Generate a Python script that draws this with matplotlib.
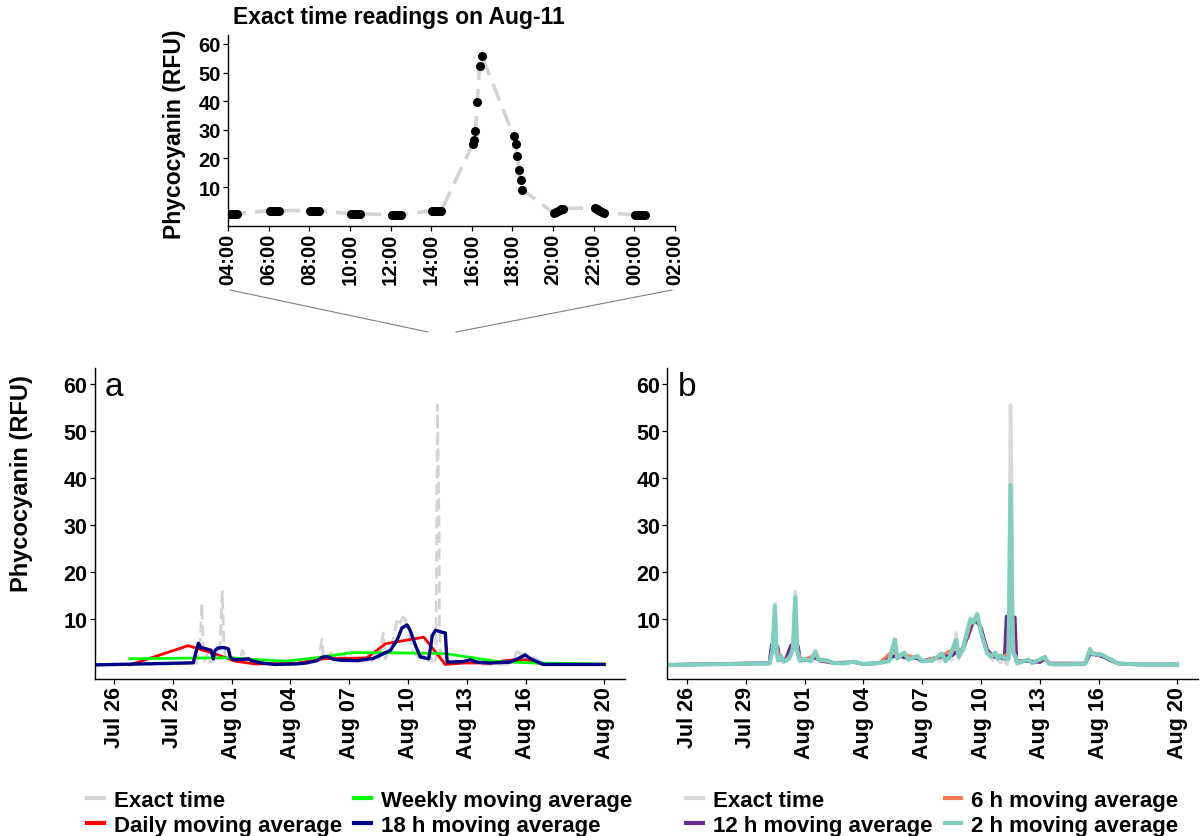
import numpy as np
import pandas as pd
import matplotlib
matplotlib.use("Agg")
import matplotlib.pyplot as plt
from matplotlib.lines import Line2D

plt.rcParams['font.family'] = ['Liberation Sans', 'DejaVu Sans']
plt.rcParams['font.weight'] = 'bold'

# ---- data (day offsets are days after Jul 26 00:00) ----
exact_days = [-1.0, 4.20, 4.30, 4.40, 4.48, 4.55, 4.62, 4.75, 4.85, 5.05, 5.25, 5.40, 5.52, 5.60,
              5.70, 5.85, 6.00, 6.40, 6.55, 6.70, 7.00, 7.10, 7.50, 8.00, 8.50, 8.70, 9.00, 9.80,
              10.20, 10.45, 10.60, 10.70, 10.90, 11.07, 11.25, 11.50, 11.75, 11.95, 12.20, 12.50,
              12.75, 12.90, 13.00, 13.15, 13.35, 13.50, 13.73, 13.85, 14.00, 14.15, 14.35, 14.46,
              14.60, 14.80, 14.95, 15.10, 15.30, 15.50, 15.62, 15.73, 15.85, 16.00, 16.08, 16.17,
              16.25, 16.33, 16.42, 16.50, 16.585, 16.60, 16.67, 16.75, 16.83, 17.00, 17.40, 17.60,
              18.00, 18.26, 18.45, 18.70, 19.50, 20.30, 20.45, 20.55, 20.70, 21.00, 21.14, 21.40,
              21.65, 22.00, 23.00, 25.00]
exact_vals = [0.2, 0.5, 3.0, 5.5, 13.2, 3.5, 1.0, 2.5, 0.8, 1.0, 2.0, 4.0, 15.8, 4.5,
              1.2, 0.9, 1.5, 1.0, 3.3, 1.3, 1.3, 1.0, 0.6, 0.5, 0.9, 0.6, 0.3, 0.6,
              1.0, 1.5, 5.6, 1.5, 2.0, 2.8, 1.3, 1.8, 2.1, 0.9, 1.3, 1.0,
              1.8, 1.0, 2.6, 1.0, 2.3, 1.2, 7.0, 1.5, 3.0, 3.5, 8.0, 10.2,
              9.0, 11.0, 8.0, 5.5, 2.8, 1.9, 1.2, 2.8, 1.3, 0.7, 1.8, 1.8,
              0.7, 0.3, 1.8, 55.5, 27.5, 9.0, 2.0, 2.5, 0.3, 0.6, 1.3, 0.6,
              0.8, 1.9, 0.6, 0.3, 0.3, 0.4, 1.5, 3.7, 2.5, 2.6, 2.4, 1.8,
              1.2, 0.5, 0.3, 0.3]

daily_days = [0.8, 3.78, 5.15, 6.17, 7.2, 9.24, 10.7, 12.9, 13.84, 15.8, 16.9, 17.85, 19.2,
              19.9, 20.5, 21.0, 21.8, 25.0]
daily_vals = [0.2, 4.3, 2.55, 1.0, 0.4, 0.5, 1.5, 1.7, 4.7, 6.1, 0.3, 0.6, 0.6,
              1.1, 1.3, 1.3, 0.4, 0.3]

weekly_days = [0.8, 5.0, 6.0, 7.0, 8.76, 10.5, 12.1, 14.0, 16.9, 18.5, 19.6, 21.5, 25.0]
weekly_vals = [1.5, 1.7, 1.7, 1.4, 1.0, 1.8, 2.8, 2.8, 2.6, 1.6, 0.9, 0.6, 0.4]

h18_days = [-1.0, 4.04, 4.15, 4.3, 4.45, 4.55, 4.8, 4.95, 5.06, 5.15, 5.3, 5.6, 5.83, 5.92,
            6.0, 6.25, 6.6, 6.85, 7.02, 7.53, 8.2, 9.24, 9.8, 10.35, 10.6, 10.86, 11.2, 11.54,
            12.4, 13.24, 13.75, 14.1, 14.44, 14.69, 14.95, 15.1, 15.37, 15.63, 16.05, 16.15,
            16.23, 16.4, 16.6, 16.9, 16.97, 17.0, 17.8, 18.18, 18.5, 19.2, 20.2, 20.5, 20.97,
            21.3, 21.9, 25.0]
h18_vals = [0.2, 0.64, 2.5, 4.8, 3.8, 3.8, 3.5, 3.3, 1.5, 3.3, 3.8, 3.9, 3.6, 2.0,
            1.5, 1.3, 1.4, 1.5, 1.1, 0.6, 0.3, 0.4, 0.6, 1.1, 1.8, 2.0, 1.4, 1.2,
            1.1, 1.6, 2.6, 3.3, 5.5, 8.1, 8.7, 7.6, 4.4, 1.9, 1.5, 4.0,
            6.4, 7.6, 7.3, 7.0, 2.0, 0.8, 0.9, 1.3, 0.8, 0.6, 0.8, 1.3, 2.3,
            1.4, 0.3, 0.3]

h12_days = [-1.0, 4.2, 4.32, 4.5, 4.62, 4.7, 4.85, 5.05, 5.3, 5.5, 5.65, 5.75, 6.0, 6.5, 6.8,
            7.5, 8.5, 9.0, 9.8, 10.5, 10.8, 11.07, 11.75, 12.0, 13.0, 13.5, 13.75, 14.0, 14.3,
            14.6, 14.8, 15.0, 15.3, 15.6, 16.0, 16.2, 16.3, 16.48, 16.5, 16.55, 16.72, 16.8,
            17.4, 18.0, 18.26, 18.5, 20.3, 20.55, 21.0, 21.3, 21.7, 22.0, 23.0, 25.0]
h12_vals = [0.2, 0.6, 4.5, 4.6, 4.0, 1.5, 1.3, 1.5, 4.3, 5.1, 4.3, 1.5, 1.2, 1.8, 1.1,
            0.6, 0.8, 0.4, 0.6, 2.0, 2.2, 1.8, 1.6, 1.0, 2.0, 2.2, 3.0, 3.2, 6.0,
            9.5, 9.3, 8.0, 3.5, 2.0, 1.8, 1.5, 10.5, 10.7, 9.0, 10.5, 10.3, 1.0,
            1.0, 0.8, 1.5, 0.5, 0.5, 2.5, 2.3, 1.8, 1.0, 0.5, 0.3, 0.3]

h6_days = [-1.0, 4.2, 4.38, 4.5, 4.62, 4.8, 5.0, 5.3, 5.5, 5.65, 5.85, 6.0, 6.55, 6.8, 7.5,
           8.5, 9.0, 9.8, 10.55, 10.75, 11.07, 11.75, 12.0, 13.0, 13.73, 14.0, 14.3, 14.5,
           14.8, 15.0, 15.3, 15.6, 15.75, 16.0, 16.35, 16.45, 16.52, 16.6, 16.7, 16.85, 17.4,
           17.6, 18.26, 18.5, 20.3, 20.55, 21.14, 21.7, 22.0, 23.0, 25.0]
h6_vals = [0.2, 0.5, 3.5, 7.7, 3.0, 1.5, 1.2, 2.5, 7.7, 3.0, 1.0, 1.3, 2.5, 1.2, 0.6,
           0.8, 0.4, 0.6, 3.5, 1.7, 2.4, 1.8, 1.0, 2.2, 4.0, 3.0, 6.5, 9.5,
           10.0, 7.5, 3.0, 2.0, 2.5, 2.0, 2.5, 15.0, 20.0, 12.0, 2.5, 0.8, 1.2,
           0.6, 1.6, 0.5, 0.4, 3.0, 2.4, 1.2, 0.5, 0.3, 0.3]

h2_days = [-1.0, 4.2, 4.35, 4.48, 4.56, 4.65, 4.8, 4.95, 5.2, 5.4, 5.52, 5.62, 5.75, 6.0, 6.3,
           6.54, 6.7, 7.1, 7.5, 8.0, 8.5, 9.0, 9.8, 10.3, 10.6, 10.72, 11.07, 11.3, 11.75, 12.0,
           12.5, 13.0, 13.2, 13.4, 13.73, 13.85, 14.05, 14.3, 14.46, 14.6, 14.8, 15.0, 15.3,
           15.5, 15.73, 15.85, 16.0, 16.2, 16.4, 16.5, 16.62, 16.75, 16.85, 17.4, 17.6, 18.26,
           18.45, 18.7, 20.3, 20.55, 20.7, 21.14, 21.65, 22.0, 23.0, 25.0]
h2_vals = [0.2, 0.5, 3.0, 12.8, 3.0, 1.2, 2.0, 0.9, 1.5, 3.5, 14.6, 3.0, 1.1, 1.4, 1.0,
           3.0, 1.3, 1.2, 0.6, 0.5, 0.9, 0.4, 0.6, 1.0, 5.6, 1.6, 2.8, 1.3, 2.1, 1.0,
           1.1, 2.6, 1.0, 2.0, 5.5, 1.9, 3.3, 7.5, 9.9, 9.2, 11.0, 7.0, 2.8,
           1.9, 2.8, 1.5, 2.2, 1.6, 1.5, 38.5, 3.0, 2.0, 0.6, 1.3, 0.6, 1.9,
           0.5, 0.3, 0.4, 3.5, 2.5, 2.4, 1.3, 0.5, 0.3, 0.3]

# inset: clock hours on Aug-11 (24+ = next day)
inset_hours = [4.00, 4.08, 4.17, 4.25, 4.33, 4.42,
               6.05, 6.14, 6.23, 6.32, 6.41, 6.50,
               8.05, 8.14, 8.23, 8.32, 8.41, 8.50,
               10.05, 10.14, 10.23, 10.32, 10.41, 10.50,
               12.05, 12.14, 12.23, 12.32, 12.41, 12.50,
               14.05, 14.14, 14.23, 14.32, 14.41, 14.50,
               16.04, 16.09, 16.18, 16.27, 16.38, 16.49,
               18.06, 18.15, 18.23, 18.32, 18.40, 18.49,
               20.05, 20.14, 20.23, 20.32, 20.41, 20.50,
               22.05, 22.14, 22.23, 22.32, 22.41, 22.50,
               24.05, 24.14, 24.23, 24.32, 24.41, 24.50]
inset_vals = [0.7, 0.7, 0.7, 0.7, 0.7, 0.7,
              1.8, 1.8, 1.8, 1.8, 1.8, 1.8,
              1.8, 1.8, 1.8, 1.7, 1.7, 1.7,
              0.7, 0.7, 0.7, 0.7, 0.7, 0.7,
              0.3, 0.3, 0.3, 0.3, 0.3, 0.3,
              1.8, 1.8, 1.8, 1.8, 1.8, 1.8,
              24.9, 26.3, 29.6, 39.7, 52.3, 55.8,
              27.9, 25.2, 21.0, 16.1, 12.3, 9.1,
              0.8, 1.2, 1.6, 2.0, 2.4, 2.5,
              2.7, 2.3, 1.9, 1.5, 1.2, 1.0,
              0.3, 0.3, 0.3, 0.3, 0.3, 0.3]
inset_ticks = [4, 6, 8, 10, 12, 14, 16, 18, 20, 22, 24, 26]
inset_labels = ['04:00', '06:00', '08:00', '10:00', '12:00', '14:00', '16:00', '18:00',
                '20:00', '22:00', '00:00', '02:00']

date_ticks = ['2021-07-26', '2021-07-29', '2021-08-01', '2021-08-04', '2021-08-07',
              '2021-08-10', '2021-08-13', '2021-08-16', '2021-08-20']
date_labels = ['Jul 26', 'Jul 29', 'Aug 01', 'Aug 04', 'Aug 07', 'Aug 10', 'Aug 13',
               'Aug 16', 'Aug 20']

legend_a = ['Exact time', 'Daily moving average', 'Weekly moving average', '18 h moving average']
legend_b = ['Exact time', '12 h moving average', '6 h moving average', '2 h moving average']

base = pd.Timestamp('2021-07-26')


def to_dates(days):
    return base + pd.to_timedelta(np.array(days), unit='D')


W, H = 1202, 837
fig = plt.figure(figsize=(W / 100, H / 100), dpi=100)


def px_axes(left, top, right, bottom):
    return fig.add_axes([left / W, 1 - bottom / H, (right - left) / W, (bottom - top) / H])


def style(ax, fs):
    for s in ['top', 'right']:
        ax.spines[s].set_visible(False)
    ax.spines['left'].set_linewidth(1.0)
    ax.spines['bottom'].set_linewidth(1.0)
    ax.tick_params(length=3.5, width=0.9, labelsize=fs, pad=1.5)
    for lab in ax.get_xticklabels() + ax.get_yticklabels():
        lab.set_fontweight('bold')


# ---- inset ----
axi = px_axes(228, 36, 675, 227)
axi.plot(inset_hours, inset_vals, color='#d3d3d3', lw=2.6, ls=(0, (5, 2.5)), zorder=1)
axi.plot(inset_hours, inset_vals, 'o', color='black', ms=5.5, zorder=2)
axi.set_xlim(4, 26)
axi.set_ylim(-3.6, 63.1)
axi.set_yticks([10, 20, 30, 40, 50, 60])
axi.set_xticks(inset_ticks)
axi.set_xticklabels(inset_labels, rotation=90)
style(axi, 14.5)
axi.text(0.012, 1.035, 'Exact time readings on Aug-11', transform=axi.transAxes,
         fontsize=16.5, fontweight='bold', ha='left', va='bottom')
fig.text(174 / W, 1 - 134 / H, 'Phycocyanin (RFU)', rotation=90, ha='center', va='center',
         fontsize=16.5, fontweight='bold')

# zoom connector lines
fig.add_artist(Line2D([230 / W, 428 / W], [1 - 291 / H, 1 - 333 / H], color='#808080', lw=0.8))
fig.add_artist(Line2D([672 / W, 456 / W], [1 - 291 / H, 1 - 333 / H], color='#808080', lw=0.8))

xlim = (pd.Timestamp('2021-07-25'), pd.Timestamp('2021-08-21 01:00'))
tick_pos = pd.to_datetime(date_ticks)

# ---- panel a ----
axa = px_axes(94.5, 369, 624.5, 680)
la0, = axa.plot(to_dates(exact_days), exact_vals, color='#d3d3d3', lw=2.0, ls=(0, (4, 2)))
la1, = axa.plot(to_dates(daily_days), daily_vals, color='#ff0000', lw=2.0)
la2, = axa.plot(to_dates(weekly_days), weekly_vals, color='#00ff00', lw=2.0)
la3, = axa.plot(to_dates(h18_days), h18_vals, color='#00008b', lw=2.4)

# ---- panel b ----
axb = px_axes(667.5, 369, 1197.5, 680)
lb0, = axb.plot(to_dates(exact_days), exact_vals, color='#d9d9d9', lw=2.6)
lb1, = axb.plot(to_dates(h12_days), h12_vals, color='#6a2a92', lw=2.6)
lb2, = axb.plot(to_dates(h6_days), h6_vals, color='#fa7a55', lw=2.0)
lb3, = axb.plot(to_dates(h2_days), h2_vals, color='#7fcfc0', lw=3.0)

for ax, letter, handles, labels in [(axa, 'a', [la0, la1, la2, la3], legend_a),
                                     (axb, 'b', [lb0, lb1, lb2, lb3], legend_b)]:
    ax.set_xlim(xlim)
    ax.set_ylim(-2.8, 63.4)
    ax.set_yticks([10, 20, 30, 40, 50, 60])
    ax.set_xticks(tick_pos)
    ax.set_xticklabels(date_labels, rotation=90)
    style(ax, 15.5)
    ax.text(0.02, 0.99, letter, transform=ax.transAxes, fontsize=24, fontweight='normal',
            ha='left', va='top')
    leg_handles = [Line2D([0], [0], color=h.get_color(), lw=3.0) for h in handles]
    ax.legend(leg_handles, labels, ncol=2, loc='upper center', bbox_to_anchor=(0.5, -0.322),
              frameon=False, prop={'weight': 'bold', 'size': 16}, handlelength=0.75,
              handletextpad=0.45, columnspacing=0.55, labelspacing=0.15, borderpad=0)

fig.text(21.5 / W, 1 - 484 / H, 'Phycocyanin (RFU)', rotation=90, ha='center', va='center',
         fontsize=17, fontweight='bold')

fig.savefig('out.png', dpi=100)
